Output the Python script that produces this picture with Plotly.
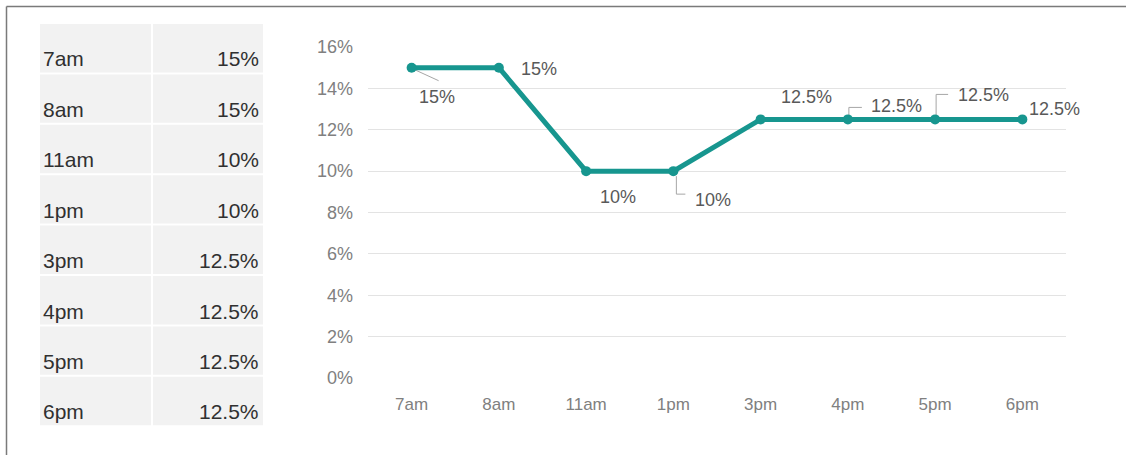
import plotly.graph_objects as go

# Hourly share values
hours = ["7am", "8am", "11am", "1pm", "3pm", "4pm", "5pm", "6pm"]
shares = [0.15, 0.15, 0.10, 0.10, 0.125, 0.125, 0.125, 0.125]
share_text = ["15%", "15%", "10%", "10%", "12.5%", "12.5%", "12.5%", "12.5%"]
y_ticks = [0, 0.02, 0.04, 0.06, 0.08, 0.10, 0.12, 0.14, 0.16]

W, H = 1126, 455
TEAL = "#17968f"
LABEL_GREY = "#595959"
LEADER_GREY = "#a6a6a6"

# Label placement per point: (x shift, y shift) in pixels, and optional leader path
label_offsets = [(25, -29), (40, -1), (32, -26), (40, -29), (46, 22), (49, 13), (48, 24), (32, 10)]
leaders = [
    "M 3 -2 L 27 -13",
    None,
    None,
    "M 3 -5 L 3 -23 L 12 -23",
    None,
    "M 1 2 L 1 12 L 14 12",
    "M 1 2 L 1 25 L 13 25",
    None,
]

fig = go.Figure()
fig.add_trace(go.Scatter(
    x=hours, y=shares, mode="lines+markers",
    line=dict(color=TEAL, width=5),
    marker=dict(color=TEAL, size=10),
    hoverinfo="skip", showlegend=False,
))

for h, v, t, (dx, dy), lp in zip(hours, shares, share_text, label_offsets, leaders):
    fig.add_annotation(x=h, y=v, text=t, showarrow=False, xshift=dx, yshift=dy,
                       font=dict(size=18, color=LABEL_GREY))
    if lp:
        fig.add_shape(type="path", xref="x", yref="y", xsizemode="pixel", ysizemode="pixel",
                      xanchor=h, yanchor=v, path=lp,
                      line=dict(color=LEADER_GREY, width=1), layer="below")

# Side table of the same values
tbl_left, tbl_mid, tbl_right = 40, 152, 263
tbl_top, row_h = 24, 50.4
for i, (h, t) in enumerate(zip(hours, share_text)):
    top = tbl_top + i * row_h
    bot = top + row_h - 2
    for x0, x1 in ((tbl_left, tbl_mid - 1), (tbl_mid + 1, tbl_right)):
        fig.add_shape(type="rect", xref="paper", yref="paper",
                      x0=x0 / W, x1=x1 / W, y0=1 - bot / H, y1=1 - top / H,
                      fillcolor="#f2f2f2", line=dict(width=0), layer="below")
    ty = 1 - (top + 35) / H
    fig.add_annotation(xref="paper", yref="paper", x=(tbl_left + 1) / W, y=ty,
                       xanchor="left", yanchor="middle", text=h, showarrow=False,
                       font=dict(size=21, color="#303030"))
    fig.add_annotation(xref="paper", yref="paper", x=(tbl_right - 2) / W, y=ty,
                       xanchor="right", yanchor="middle", text=t, showarrow=False,
                       font=dict(size=21, color="#303030"))

# Frame lines along the top and left edges
fig.add_shape(type="line", xref="paper", yref="paper", x0=6.5 / W, x1=1, y0=1 - 6.5 / H, y1=1 - 6.5 / H,
              line=dict(color="#7a7a7a", width=1.5))
fig.add_shape(type="line", xref="paper", yref="paper", x0=6.5 / W, x1=6.5 / W, y0=0, y1=1 - 6.5 / H,
              line=dict(color="#7a7a7a", width=1.5))

fig.update_layout(
    width=W, height=H,
    margin=dict(l=0, r=0, t=0, b=0, autoexpand=False),
    paper_bgcolor="white", plot_bgcolor="white",
    font=dict(family="Liberation Sans, Arial, sans-serif"),
    xaxis=dict(domain=[368 / W, 1066 / W], range=[-0.5, 7.5], showgrid=False, showline=False,
               zeroline=False, ticks="", ticklabelstandoff=14, automargin=False,
               tickfont=dict(family="Liberation Sans Narrow, Liberation Sans, Arial", size=17, color="#808080")),
    yaxis=dict(domain=[(H - 378) / H, (H - 47) / H], range=[0, 0.16], tickvals=y_ticks,
               tickformat=".0%", showgrid=True, gridcolor="#e3e3e3", gridwidth=1,
               zeroline=False, showline=False, ticks="", ticklabelstandoff=14, automargin=False,
               tickfont=dict(size=18, color="#808080")),
)

fig.write_html("out.html")
